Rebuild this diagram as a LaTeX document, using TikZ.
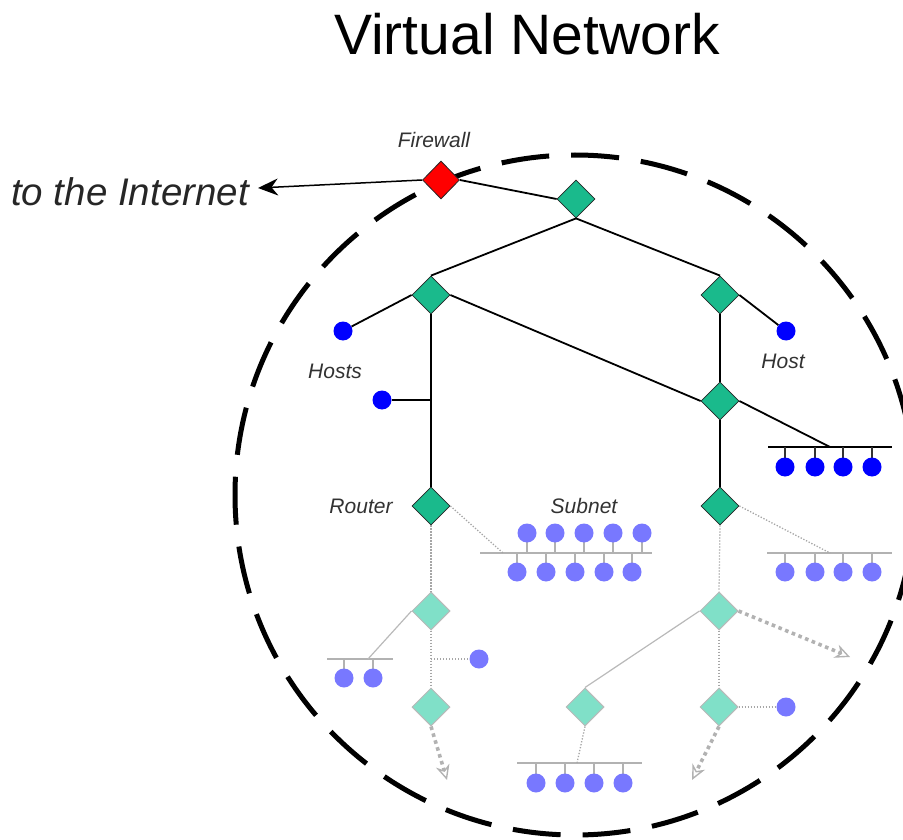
\documentclass[tikz,border=0pt]{standalone}
\usepackage{fontspec}
\setmainfont{Liberation Sans}
\usetikzlibrary{shapes.geometric,arrows.meta}
\definecolor{rgreen}{RGB}{26,186,140}
\definecolor{lgreen}{RGB}{128,224,200}
\definecolor{hblue}{RGB}{0,0,255}
\definecolor{lblue}{RGB}{120,120,255}
\definecolor{lbl}{RGB}{50,50,50}
\tikzset{
  router/.style={diamond, draw=black!85, fill=rgreen, minimum width=38pt, minimum height=38pt, inner sep=0pt, line width=0.8pt},
  lrouter/.style={diamond, draw=gray!55, fill=lgreen, minimum width=38pt, minimum height=38pt, inner sep=0pt, line width=1pt},
  fwall/.style={diamond, draw=black!85, fill=red, minimum width=37pt, minimum height=38pt, inner sep=0pt, line width=0.8pt},
  host/.style={circle, fill=hblue, minimum size=19pt, inner sep=0pt},
  lhost/.style={circle, fill=lblue, minimum size=19pt, inner sep=0pt},
  link/.style={draw=black, line width=1.8pt},
  glink/.style={draw=gray!55, line width=1.2pt},
  dlink/.style={draw=gray!70, line width=1.3pt, dash pattern=on 1.3pt off 1.7pt},
  farrow/.style={draw=gray!60, line width=3.6pt, dash pattern=on 3.6pt off 3.6pt, -{Stealth[length=15pt,width=14pt,open,line width=1.4pt]}},
  dbus/.style={draw=black, line width=2pt},
  lbus/.style={draw=gray!60, line width=2.6pt},
  dstem/.style={draw=black!80, line width=1.2pt},
  lstem/.style={draw=gray!60, line width=1.2pt},
  lab/.style={font=\fontsize{21}{24}\selectfont\itshape, text=lbl, inner sep=0pt, anchor=base},
}
\begin{document}
\begin{tikzpicture}[x=1pt,y=-1pt]
\useasboundingbox (0,0) rectangle (903,840);
% boundary
\draw[line width=5pt, dash pattern=on 48pt off 22pt] (575,495) circle[radius=340pt];
% title and labels
\node[font=\fontsize{57}{60}\selectfont, inner sep=0pt, anchor=base] (title) at (527,55) {Virtual Network};
\node[font=\fontsize{38.5}{42}\selectfont\itshape, text=black!85, inner sep=0pt, anchor=base west] (inet) at (11,205) {to the Internet};
\node[lab] (lfw) at (434,148) {Firewall};
\node[lab] (lhosts) at (335,378) {Hosts};
\node[lab] (lhost) at (783,368) {Host};
\node[lab] (lrouter) at (361,513) {Router};
\node[lab] (lsubnet) at (584,513) {Subnet};
% routers
\node[fwall] (fw) at (441,180) {};
\node[router] (top) at (576,199) {};
\node[router] (l1) at (431,295) {};
\node[router] (r1) at (720,295) {};
\node[router] (r2) at (720,401) {};
\node[router] (rl) at (431,506) {};
\node[router] (rr) at (720,506) {};
\node[lrouter] (ll1) at (431,611) {};
\node[lrouter] (ll2) at (431,707) {};
\node[lrouter] (lr1) at (719,611) {};
\node[lrouter] (lr2) at (719,707) {};
\node[lrouter] (lm) at (585,707) {};
% hosts
\node[host] (h1) at (343,331) {};
\node[host] (h2) at (382,400) {};
\node[host] (h3) at (786,331) {};
\node[lhost] (lh1) at (479,659) {};
\node[lhost] (lh2) at (786,707) {};
% coordinates
\coordinate (tip) at (258,188);
\coordinate (h2tap) at (431,400);
\coordinate (b1l) at (768,447); \coordinate (b1r) at (892,447); \coordinate (b1t) at (830,447);
\coordinate (b2l) at (480,553); \coordinate (b2r) at (652,553); \coordinate (b2t) at (503,553);
\coordinate (b3l) at (767,553); \coordinate (b3r) at (892,553); \coordinate (b3t) at (830,553);
\coordinate (b4l) at (327,659); \coordinate (b4r) at (393,659); \coordinate (b4t) at (368,659);
\coordinate (b5l) at (517,763); \coordinate (b5r) at (642,763); \coordinate (b5t) at (577,763);
\coordinate (lh1tap) at (431,659);
\coordinate (a1) at (447,780);
\coordinate (a2) at (850,657);
\coordinate (a3) at (692,780);
% solid links
\draw[link, line width=1.5pt, -{Stealth[length=20pt,width=17pt]}] (fw.west) -- (tip);
\draw[link] (fw.east) -- (top.west);
\draw[link] (top.south) -- (l1.north);
\draw[link] (top.south) -- (r1.north);
\draw[link] (l1.east) -- (r2.west);
\draw[link] (l1.west) -- (h1);
\draw[link] (l1.south) -- (rl.north);
\draw[link] (h2) -- (h2tap);
\draw[link] (r1.east) -- (h3);
\draw[link] (r1.south) -- (r2.north);
\draw[link] (r2.east) -- (b1t);
\draw[link] (r2.south) -- (rr.north);
% dark bus
\draw[dbus] (b1l) -- (b1r);
\foreach \x in {785,815,843,872} {
  \draw[dstem] (\x,447) -- (\x,459);
  \node[host] at (\x,467) {};
}
% light buses
\draw[lbus] (b2l) -- (b2r);
\foreach \x in {527,555,584,613,642} {
  \draw[lstem] (\x,553) -- (\x,540);
  \node[lhost] at (\x,533) {};
}
\foreach \x in {517,546,575,604,632} {
  \draw[lstem] (\x,553) -- (\x,565);
  \node[lhost] at (\x,572) {};
}
\draw[lbus] (b3l) -- (b3r);
\foreach \x in {785,815,843,872} {
  \draw[lstem] (\x,553) -- (\x,565);
  \node[lhost] at (\x,572) {};
}
\draw[lbus] (b4l) -- (b4r);
\foreach \x in {344,373} {
  \draw[lstem] (\x,659) -- (\x,671);
  \node[lhost] at (\x,678) {};
}
\draw[lbus] (b5l) -- (b5r);
\foreach \x in {536,565,594,623} {
  \draw[lstem] (\x,763) -- (\x,775);
  \node[lhost] at (\x,783) {};
}
% dotted / light links
\draw[dlink] (rl.east) -- (b2t);
\draw[dlink] (rl.south) -- (ll1.north);
\draw[glink] (ll1.west) -- (b4t);
\draw[dlink] (ll1.south) -- (ll2.north);
\draw[dlink] (lh1tap) -- (lh1);
\draw[farrow] (ll2.south) -- (a1);
\draw[dlink] (rr.east) -- (b3t);
\draw[dlink] (rr.south) -- (lr1.north);
\draw[farrow] (lr1.east) -- (a2);
\draw[glink] (lr1.west) -- (lm.north);
\draw[dlink] (lr1.south) -- (lr2.north);
\draw[dlink] (lr2.east) -- (lh2);
\draw[farrow] (lr2.south) -- (a3);
\draw[dlink] (lm.south) -- (b5t);
\end{tikzpicture}
\end{document}
